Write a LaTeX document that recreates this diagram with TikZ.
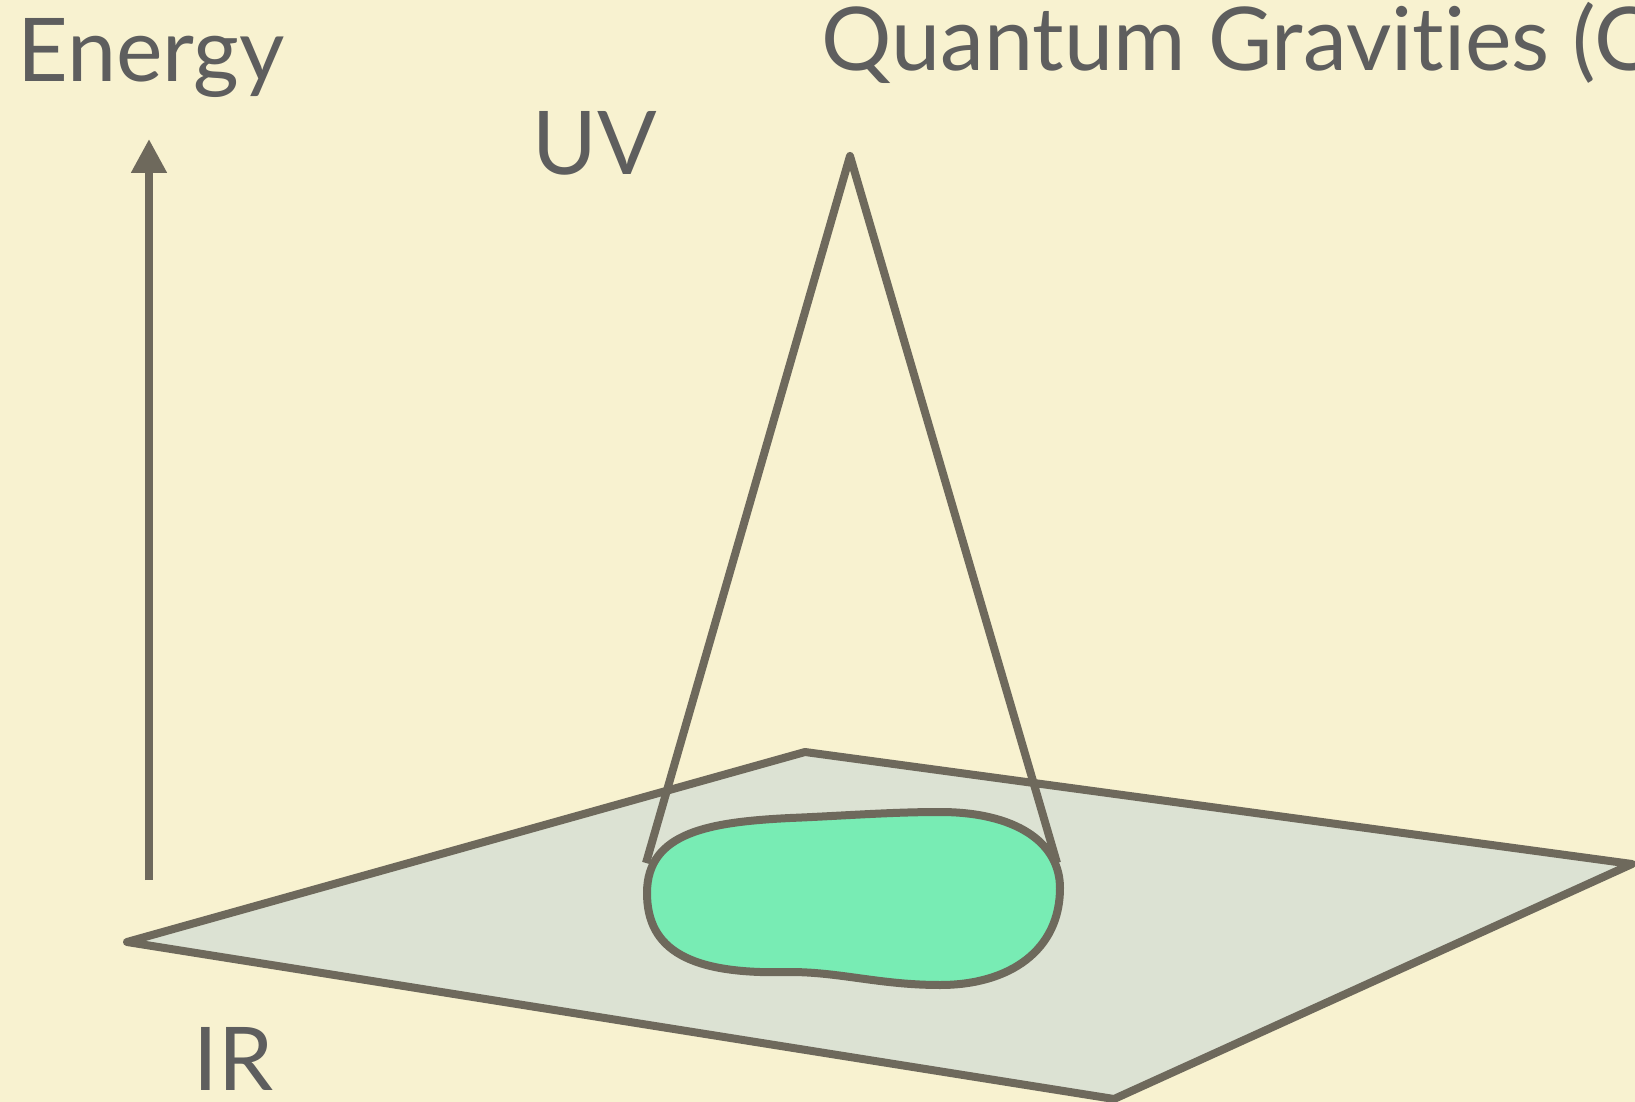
\documentclass[tikz,border=0pt]{standalone}
\usepackage{fontspec}
\setmainfont{Lato}[Ligatures={NoCommon}]
\usepackage{tikz}
\usetikzlibrary{arrows.meta}
\definecolor{paper}{HTML}{F8F2D0}
\definecolor{ink}{HTML}{6E695C}
\definecolor{txt}{HTML}{5E5E5E}
\definecolor{plane}{HTML}{DCE2D3}
\definecolor{blob}{HTML}{78ECB4}

\begin{document}
\begin{tikzpicture}[
  x=0.5pt, y=-0.5pt,
  line join=round,
  lbl/.style={text=txt, inner sep=0pt, anchor=base west, text depth=0pt, font=\fontsize{44}{52}\selectfont},
  edge/.style={draw=ink, line width=4pt},
  arr/.style={edge, -{Triangle[length=17pt, width=17pt]}},
]
\useasboundingbox (0,0) rectangle (1635,1102);
\clip (0,0) rectangle (1635,1102);
\fill[paper] (0,0) rectangle (1635,1102);
% corners of the plane and the cone
\coordinate (pl) at (127,942);
\coordinate (pt) at (805,752);
\coordinate (pr) at (1632,864);
\coordinate (pb) at (1114,1099);
\coordinate (apex) at (850,156);
\coordinate (cl) at (646,863);
\coordinate (cr) at (1057,863);
\coordinate (ebot) at (149,880);
\coordinate (etop) at (149,139);
\node[lbl] (energy) at (17,82) {Energy};
\node[lbl] (uv) at (532,175) {UV};
\node[lbl] (ir) at (193,1090) {IR};
\node[lbl] (qg) at (821,71) {Quantum Gravities (Q};
\draw[arr] (ebot) -- (etop);
\filldraw[edge, fill=plane] (pl) -- (pt) -- (pr) -- (pb) -- cycle;
\draw[edge] (cl) -- (apex) -- (cr);
\filldraw[edge, fill=blob] (647,893) .. controls (647,832) and (710,822) .. (790,818)
  .. controls (840,816) and (890,812) .. (940,812)
  .. controls (1015,812) and (1060,842) .. (1060,888)
  .. controls (1060,950) and (1010,985) .. (940,985)
  .. controls (880,985) and (840,972) .. (790,972)
  .. controls (690,975) and (647,950) .. cycle;
\end{tikzpicture}
\end{document}
